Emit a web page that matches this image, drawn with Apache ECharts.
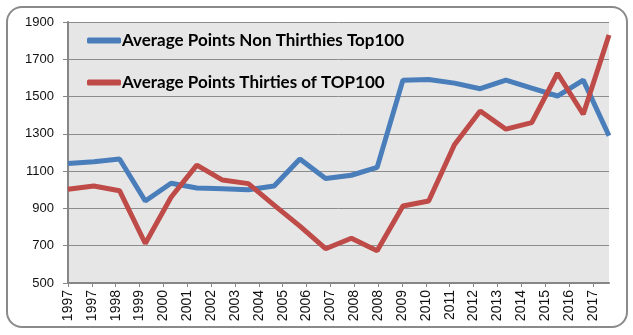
<!DOCTYPE html>
<html>
<head>
<meta charset="utf-8">
<script src="https://cdn.jsdelivr.net/npm/echarts@6/dist/echarts.min.js"></script>
<style>
html,body{margin:0;padding:0;background:#fff;}
#c{width:633px;height:335px;}
</style>
</head>
<body>
<div id="c"></div>
<script>
var tickLabels = ['1997','1997','1998','1999','2000','2001','2002','2003','2004','2005','2006','2007','2008','2008','2009','2010','2011','2012','2013','2014','2015','2016','2017'];
var seriesNames = ['Average Points Non Thirthies Top100', 'Average Points Thirties of TOP100'];
var nonThirties = [1141, 1150, 1165, 940, 1035, 1010, 1005, 1000, 1020, 1165, 1060, 1078, 1120, 1588, 1592, 1572, 1542, 1588, 1545, 1503, 1588, 1290];
var thirties = [1003, 1020, 995, 712, 960, 1132, 1052, 1033, 918, 805, 684, 740, 673, 913, 940, 1242, 1423, 1325, 1360, 1625, 1405, 1830];
var pointIndex = nonThirties.map(function (_, i) { return String(i); });

var chart = echarts.init(document.getElementById('c'));
chart.setOption({
  animation: false,
  backgroundColor: '#fff',
  graphic: [{
    type: 'rect', z: -10, silent: true,
    shape: { x: 7, y: 7, width: 620, height: 320, r: 15 },
    style: { fill: '#fff', stroke: '#8a8a8a', lineWidth: 2 }
  }],
  grid: {
    left: 68, right: 24, top: 22, bottom: 52,
    show: true, backgroundColor: '#E6E6E6', borderWidth: 0
  },
  legend: {
    orient: 'vertical', left: 87, top: 32, itemGap: 25, padding: 0,
    icon: 'roundRect', itemWidth: 34, itemHeight: 6,
    textStyle: { fontFamily: 'Lato', fontWeight: 'bold', fontSize: 17, color: '#000', padding: [0, 0, 0, -4] },
    data: seriesNames
  },
  xAxis: [{
    type: 'value', min: 0, max: 22.68, interval: 1,
    axisLine: { lineStyle: { color: '#868686', width: 2 } },
    axisTick: { show: true, length: 4, lineStyle: { color: '#868686' } },
    splitLine: { show: false },
    axisLabel: {
      rotate: 90, margin: 7, fontFamily: 'Liberation Sans', fontSize: 14, color: '#111',
      showMaxLabel: false,
      formatter: function (v) { return (Math.abs(v - Math.round(v)) < 1e-6 && tickLabels[Math.round(v)]) || ''; }
    }
  }, {
    type: 'category', data: pointIndex, boundaryGap: false, show: false
  }],
  yAxis: {
    type: 'value', min: 500, max: 1900, interval: 200,
    axisLine: { show: true, lineStyle: { color: '#868686', width: 2 } },
    axisTick: { show: true, length: 5, lineStyle: { color: '#868686' } },
    splitLine: { lineStyle: { color: '#8c8c8c', width: 1 } },
    axisLabel: { margin: 14, fontFamily: 'Liberation Sans', fontSize: 13, color: '#111',
      formatter: function (v) { return String(v); } }
  },
  series: [{
    name: seriesNames[0], type: 'line', xAxisIndex: 1, data: nonThirties,
    symbol: 'none', lineStyle: { width: 5, color: '#4A7EBB' }, itemStyle: { color: '#4A7EBB' }
  }, {
    name: seriesNames[1], type: 'line', xAxisIndex: 1, data: thirties,
    symbol: 'none', lineStyle: { width: 5, color: '#BE4B48' }, itemStyle: { color: '#BE4B48' }
  }]
});
</script>
</body>
</html>
